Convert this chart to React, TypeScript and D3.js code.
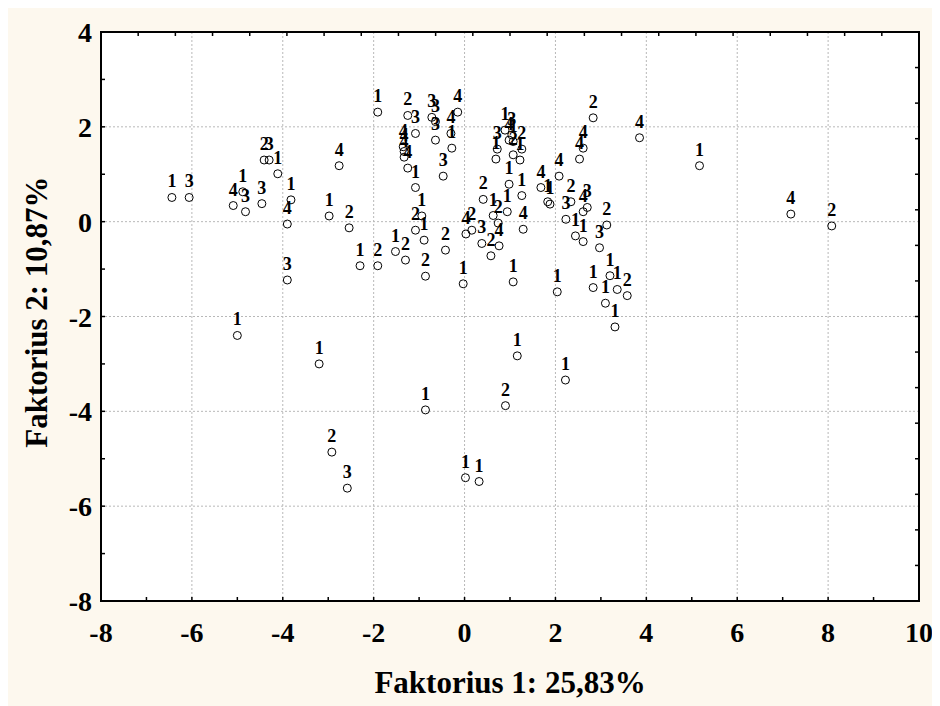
import React from "react";
import * as d3 from "d3";

// Factor scores (Faktorius 1, Faktorius 2) and the group number printed above each case
const factor1: number[] = [
  -6.44, -6.06, -5.09, -4.88, -4.82, -4.46, -4.41, -4.30, -4.11, -3.82,
  -3.90, -3.90, -2.76, -2.98, -2.54, -5.00, -3.20, -2.92, -2.58, -2.30,
  -1.91, -1.91, -1.25, -0.72, -0.64, -0.15, -1.08, -1.35, -1.33, -1.33,
  -1.25, -0.64, -0.30, -0.28, -1.08, -0.47, 0.41, -1.52, -1.30, -1.08,
  -0.94, -0.89, -0.86, -0.42, -0.03, 0.03, 0.16, 0.38, -0.86, 0.63,
  0.94, 0.74, 0.76, 0.58, 1.29, 1.07, 1.26, 1.83, 1.88, 2.23,
  2.34, 2.61, 2.70, 2.44, 2.61, 3.13, 2.97, 3.20, 2.83, 3.36,
  3.58, 3.10, 3.31, 2.04, 1.16, 0.90, 2.22, 0.02, 0.32, 0.89,
  1.04, 0.98, 1.07, 0.72, 1.26, 0.69, 1.07, 1.22, 0.98, 1.68,
  2.08, 2.83, 2.61, 2.53, 3.85, 5.17, 7.18, 8.08,
];

const factor2: number[] = [
  0.51, 0.51, 0.34, 0.63, 0.21, 0.38, 1.30, 1.30, 1.01, 0.46,
  -0.05, -1.23, 1.18, 0.12, -0.13, -2.40, -3.00, -4.86, -5.62, -0.93,
  -0.93, 2.31, 2.24, 2.20, 2.11, 2.31, 1.86, 1.58, 1.48, 1.36,
  1.13, 1.72, 1.86, 1.55, 0.72, 0.96, 0.47, -0.63, -0.81, -0.18,
  0.12, -0.39, -1.15, -0.60, -1.31, -0.26, -0.18, -0.46, -3.97, 0.13,
  0.21, -0.03, -0.51, -0.72, -0.16, -1.27, 0.55, 0.42, 0.37, 0.05,
  0.42, 0.21, 0.30, -0.30, -0.42, -0.07, -0.55, -1.14, -1.39, -1.43,
  -1.56, -1.72, -2.22, -1.48, -2.83, -3.88, -3.34, -5.40, -5.48, 1.93,
  1.83, 1.72, 1.69, 1.53, 1.53, 1.32, 1.41, 1.30, 0.79, 0.72,
  0.96, 2.19, 1.55, 1.32, 1.77, 1.18, 0.16, -0.09,
];

const group: string[] = [
  "1", "3", "4", "1", "3", "3", "2", "3", "1", "1",
  "4", "3", "4", "1", "2", "1", "1", "2", "3", "1",
  "2", "1", "2", "3", "3", "4", "3", "4", "4", "4",
  "4", "3", "4", "1", "1", "3", "2", "1", "2", "2",
  "1", "1", "2", "2", "1", "4", "2", "3", "1", "1",
  "1", "2", "4", "2", "4", "1", "1", "1", "1", "3",
  "2", "4", "3", "1", "1", "2", "3", "1", "1", "1",
  "2", "1", "1", "1", "1", "2", "1", "1", "1", "1",
  "3", "4", "1", "3", "2", "1", "2", "1", "1", "4",
  "4", "2", "4", "4", "4", "1", "4", "2",
];

const xTickLabels = [-8, -6, -4, -2, 0, 2, 4, 6, 8, 10];
const yTickLabels = [-8, -6, -4, -2, 0, 2, 4];
const xTitle = "Faktorius 1: 25,83%";
const yTitle = "Faktorius 2: 10,87%";

const W = 940;
const H = 706;
const plot = { left: 101, right: 919, top: 32, bottom: 601 };
const FONT = "'Liberation Serif', 'Times New Roman', serif";

export default function App() {
  const x = d3.scaleLinear().domain([-8, 10]).range([plot.left, plot.right]);
  const y = d3.scaleLinear().domain([-8, 4]).range([plot.bottom, plot.top]);

  const minorX = d3.range(-7, 10, 1);
  const minorY = d3.range(-7, 4, 1);
  const topTicks = d3.range(1, 22).map((i) => plot.left + (i * (plot.right - plot.left)) / 22);
  const rightTicks = d3.range(1, 16).map((i) => plot.top + (i * (plot.bottom - plot.top)) / 16);

  const points = factor1.map((v, i) => ({ fx: v, fy: factor2[i], g: group[i] }));

  return (
    <svg width={W - 8} height={H - 8} style={{ display: "block" }}>
      <g transform="translate(-8,-8)">
        <rect x={8} y={8} width={W - 8} height={H - 8} fill="#fdf8ee" />
        <rect
          x={plot.left}
          y={plot.top}
          width={plot.right - plot.left}
          height={plot.bottom - plot.top}
          fill="#ffffff"
        />
        {/* dotted grid */}
        {xTickLabels.slice(1, -1).map((t) => (
          <line
            key={"gx" + t}
            x1={x(t)}
            x2={x(t)}
            y1={plot.top}
            y2={plot.bottom}
            stroke="#b8b8b8"
            strokeWidth={1}
            strokeDasharray="2,2"
          />
        ))}
        {yTickLabels.slice(1, -1).map((t) => (
          <line
            key={"gy" + t}
            x1={plot.left}
            x2={plot.right}
            y1={y(t)}
            y2={y(t)}
            stroke="#b8b8b8"
            strokeWidth={1}
            strokeDasharray="2,2"
          />
        ))}
        {/* inward ticks */}
        {minorX.map((t) => (
          <line key={"bx" + t} x1={x(t)} x2={x(t)} y1={plot.bottom} y2={plot.bottom - 4} stroke="#000" strokeWidth={1.5} />
        ))}
        {minorY.map((t) => (
          <line key={"ly" + t} x1={plot.left} x2={plot.left + 4} y1={y(t)} y2={y(t)} stroke="#000" strokeWidth={1.5} />
        ))}
        {topTicks.map((px, i) => (
          <line key={"tx" + i} x1={px} x2={px} y1={plot.top} y2={plot.top + 4} stroke="#000" strokeWidth={1.5} />
        ))}
        {rightTicks.map((py, i) => (
          <line key={"ry" + i} x1={plot.right} x2={plot.right - 4} y1={py} y2={py} stroke="#000" strokeWidth={1.5} />
        ))}
        <rect
          x={plot.left}
          y={plot.top}
          width={plot.right - plot.left}
          height={plot.bottom - plot.top}
          fill="none"
          stroke="#000"
          strokeWidth={2}
        />
        {/* tick labels */}
        {xTickLabels.map((t) => (
          <text
            key={"xl" + t}
            x={x(t)}
            y={642}
            textAnchor="middle"
            fontFamily={FONT}
            fontWeight="bold"
            fontSize={28}
            fill="#000"
          >
            {t}
          </text>
        ))}
        {yTickLabels.map((t) => (
          <text
            key={"yl" + t}
            x={92}
            y={y(t) + 10}
            textAnchor="end"
            fontFamily={FONT}
            fontWeight="bold"
            fontSize={28}
            fill="#000"
          >
            {t}
          </text>
        ))}
        {/* axis titles */}
        <text
          x={(plot.left + plot.right) / 2}
          y={693}
          textAnchor="middle"
          fontFamily={FONT}
          fontWeight="bold"
          fontSize={31}
          fill="#000"
        >
          {xTitle}
        </text>
        <text
          transform={`translate(47,312) rotate(-90)`}
          textAnchor="middle"
          fontFamily={FONT}
          fontWeight="bold"
          fontSize={31}
          fill="#000"
        >
          {yTitle}
        </text>
        {/* cases */}
        {points.map((p, i) => (
          <g key={"p" + i}>
            <circle cx={x(p.fx)} cy={y(p.fy)} r={4} fill="none" stroke="#000" strokeWidth={1} />
            <text
              x={x(p.fx)}
              y={y(p.fy) - 10}
              textAnchor="middle"
              fontFamily={FONT}
              fontWeight="bold"
              fontSize={18}
              fill="#000"
            >
              {p.g}
            </text>
          </g>
        ))}
      </g>
    </svg>
  );
}
